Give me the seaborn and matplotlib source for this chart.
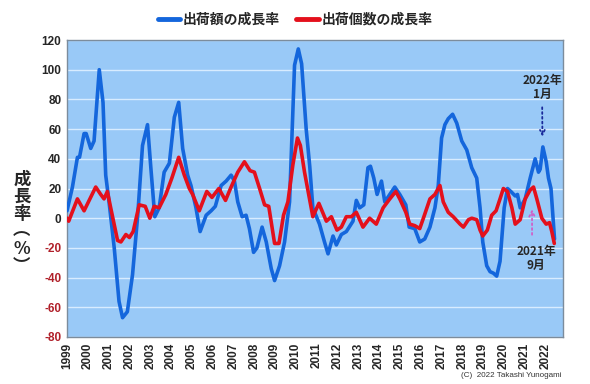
import matplotlib
matplotlib.use('Agg')
import matplotlib.pyplot as plt
import seaborn as sns
import pandas as pd

# 出荷額の成長率 (blue) -- time in decimal years, value in %
gaku_t = [1999.0, 1999.26, 1999.5, 1999.6, 1999.82, 1999.92, 2000.14, 2000.3, 2000.55,
          2000.73, 2000.86, 2001.02, 2001.27, 2001.5, 2001.67, 2001.9, 2002.15, 2002.4,
          2002.63, 2002.87, 2003.03, 2003.22, 2003.43, 2003.67, 2003.92, 2004.16, 2004.37,
          2004.56, 2004.8, 2004.96, 2005.2, 2005.4, 2005.69, 2005.93, 2006.13, 2006.41,
          2006.65, 2006.89, 2007.05, 2007.21, 2007.42, 2007.61, 2007.77, 2007.97, 2008.13,
          2008.38, 2008.58, 2008.82, 2008.98, 2009.22, 2009.46, 2009.7, 2009.94, 2010.12,
          2010.28, 2010.5, 2010.67, 2010.82, 2011.14, 2011.38, 2011.55, 2011.79, 2011.95,
          2012.19, 2012.43, 2012.75, 2012.91, 2013.07, 2013.27, 2013.47, 2013.59, 2013.75,
          2013.91, 2014.12, 2014.28, 2014.52, 2014.76, 2015.0, 2015.29, 2015.45, 2015.72,
          2015.96, 2016.2, 2016.45, 2016.69, 2016.85, 2017.01, 2017.17, 2017.33, 2017.54,
          2017.74, 2017.98, 2018.22, 2018.46, 2018.7, 2018.86, 2018.99, 2019.18, 2019.34,
          2019.5, 2019.66, 2019.82, 2020.02, 2020.18, 2020.34, 2020.55, 2020.66, 2020.79,
          2021.03, 2021.27, 2021.51, 2021.67, 2021.75, 2021.88, 2022.04, 2022.15, 2022.27,
          2022.36, 2022.44]
gaku_v = [5, 21, 41, 41, 57, 57, 47, 52, 100,
          78, 29, 11, -20, -56, -67, -63, -38, 2,
          49, 63, 34, 1, 7, 31, 37, 68, 78,
          47, 29, 22, 7, -9, 2, 5, 8, 22,
          25, 29, 25, 11, 1, 2, -7, -23, -20,
          -6, -16, -34, -42, -32, -16, 11, 103, 114,
          104, 60, 35, 7, -4, -16, -24, -12, -18,
          -11, -9, -2, 12, 7, 9, 34, 35, 27,
          16, 25, 11, 16, 21, 16, 9, -6, -7,
          -16, -14, -6, 7, 22, 54, 63, 67, 70,
          64, 52, 46, 34, 27, 7, -16, -32, -36,
          -37, -39, -29, 7, 20, 18, 15, 16, 7,
          13, 27, 40, 31, 33, 48, 38, 27, 20,
          2, -14]

# 出荷個数の成長率 (red)
kosu_t = [1999.0, 1999.08, 1999.5, 1999.82, 2000.38, 2000.62, 2000.78, 2000.94, 2001.1,
          2001.43, 2001.59, 2001.83, 2002.0, 2002.18, 2002.47, 2002.76, 2002.98, 2003.19,
          2003.43, 2003.75, 2004.04, 2004.37, 2004.64, 2004.88, 2005.04, 2005.36, 2005.72,
          2005.97, 2006.3, 2006.62, 2006.89, 2007.21, 2007.53, 2007.8, 2008.01, 2008.26,
          2008.5, 2008.7, 2008.98, 2009.19, 2009.41, 2009.62, 2009.86, 2010.08, 2010.22,
          2010.42, 2010.82, 2011.11, 2011.47, 2011.71, 2011.98, 2012.19, 2012.43, 2012.67,
          2012.91, 2013.23, 2013.55, 2013.87, 2014.2, 2014.52, 2014.81, 2015.0, 2015.29,
          2015.48, 2015.72, 2015.96, 2016.16, 2016.45, 2016.69, 2016.93, 2017.09, 2017.33,
          2017.57, 2017.9, 2018.06, 2018.3, 2018.46, 2018.7, 2018.86, 2018.99, 2019.21,
          2019.42, 2019.63, 2019.82, 2019.98, 2020.18, 2020.39, 2020.55, 2020.79, 2021.03,
          2021.27, 2021.43, 2021.59, 2021.83, 2022.04, 2022.2, 2022.31, 2022.43]
kosu_v = [0, -2, 13, 5, 21, 16, 13, 18, 7,
          -15, -16, -11, -13, -9, 9, 8, 0, 8,
          7, 16, 27, 41, 29, 20, 16, 5, 18,
          14, 20, 12, 21, 31, 38, 32, 31, 20,
          9, 8, -17, -17, 2, 11, 36, 54, 49,
          31, 1, 10, -2, 1, -8, -6, 1, 1,
          4, -6, 0, -4, 7, 13, 18, 13, 4,
          -4, -5, -7, 1, 13, 16, 22, 11, 4,
          1, -4, -6, -1, 0, -1, -8, -12, -8,
          2, 5, 13, 20, 18, 7, -4, -1, 13,
          19, 21, 13, 0, -4, -3, -9, -17]

years = list(range(1999, 2023))
yticks = list(range(-80, 121, 20))

blue = '#1466DC'
red = '#E4101C'

sns.set_style('white')
plt.rcParams['font.family'] = ['Noto Sans CJK JP', 'DejaVu Sans']

fig = plt.figure(figsize=(5.9, 3.84), dpi=100)
ax = fig.add_axes([0.1136, 0.1224, 0.8407, 0.7734])
ax.set_facecolor('#99C9F7')

df_gaku = pd.DataFrame({'t': gaku_t, 'v': gaku_v})
df_kosu = pd.DataFrame({'t': kosu_t, 'v': kosu_v})
sns.lineplot(data=df_gaku, x='t', y='v', ax=ax, color=blue, lw=2.6,
             label='出荷額の成長率', zorder=3)
sns.lineplot(data=df_kosu, x='t', y='v', ax=ax, color=red, lw=2.6,
             label='出荷個数の成長率', zorder=4)

ax.set_xlim(1999, 2022.85)
ax.set_ylim(-80, 120)
ax.set_yticks(yticks)
ax.set_xticks(years)
ax.yaxis.grid(True, color='#D8ECFF', lw=1.0)
ax.set_axisbelow(True)
for s in ax.spines.values():
    s.set_color('#7C8C9C')
    s.set_linewidth(1.0)

ax.set_xticklabels([str(y) for y in years], rotation=90, fontsize=8.5,
                   fontweight='bold', family='Liberation Sans')
ax.set_yticklabels([str(y) for y in yticks], fontsize=8.5, fontweight='bold',
                   family='Liberation Sans')
for lab, val in zip(ax.get_yticklabels(), yticks):
    if val < 0:
        lab.set_color('#B0202A')
ax.tick_params(length=0, pad=4)
ax.set_xlabel('')
ax.set_ylabel('')

fig.text(0.037, 0.42, '成\n長\n率\n︵\n%\n︶', ha='center', va='center',
         fontsize=12.5, fontweight='bold', linespacing=0.95)

leg = ax.legend(loc='center', bbox_to_anchor=(0.5, 0.948),
                bbox_transform=fig.transFigure, ncol=2, frameon=False,
                handlelength=1.6, handletextpad=0.2, columnspacing=1.2,
                prop={'size': 10, 'weight': 'bold'})
for line in leg.get_lines():
    line.set_linewidth(3.5)

ax.annotate('2022年\n1月', xy=(2021.86, 53), xytext=(2021.84, 88),
            ha='center', va='center', fontsize=8.5, fontweight='bold',
            linespacing=1.15,
            arrowprops=dict(arrowstyle='->', color='#1A2A9A', ls=':', lw=1.3))
ax.annotate('', xy=(2021.36, 8), xytext=(2021.36, -13),
            arrowprops=dict(arrowstyle='->', color='#D060C8', ls=':', lw=1.3))
ax.text(2021.55, -27, '2021年\n9月', ha='center', va='center', fontsize=8.5,
        fontweight='bold', linespacing=1.15)

fig.text(0.952, 0.022, '(C)  2022 Takashi Yunogami', ha='right', va='center',
         fontsize=5.8, color='#333333', family='Liberation Sans')

plt.savefig('out.png', dpi=100)
